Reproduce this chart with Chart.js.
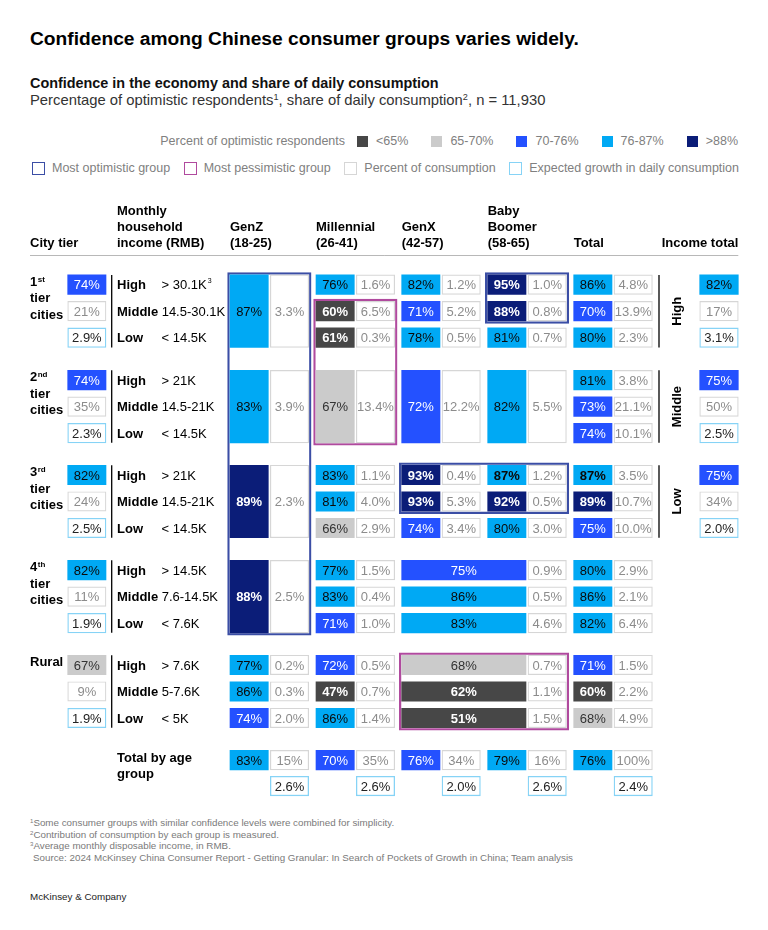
<!DOCTYPE html>
<html>
<head>
<meta charset="utf-8">
<script src="https://cdn.jsdelivr.net/npm/chart.js@4.4.1/dist/chart.umd.min.js"></script>
<style>
html,body{margin:0;padding:0;background:#fff;}
body{width:768px;height:930px;position:relative;overflow:hidden;font-family:"Liberation Sans",Arial,Helvetica,sans-serif;color:#000;}
.abs{position:absolute;white-space:nowrap;}
sup{font-size:0.62em;line-height:0;vertical-align:0.55em;}
#title{left:30px;top:28px;font-size:19.2px;line-height:22px;font-weight:bold;color:#000;}
#sub1{left:30px;top:75px;font-size:14.4px;line-height:17px;font-weight:bold;color:#111;}
#sub2{left:30px;top:92px;font-size:14.8px;line-height:17px;color:#333;}
#leg1{right:30px;top:134px;height:15px;font-size:12.5px;line-height:15px;color:#808080;display:flex;align-items:center;}
#leg1 .sw{width:11px;height:11px;margin:0 8px 0 23px;}
#leg1 .first{margin-left:12px;}
#leg2{left:32px;width:707px;top:161px;height:15px;font-size:12.5px;line-height:15px;color:#808080;display:flex;align-items:center;justify-content:space-between;}
#leg2 .it{display:flex;align-items:center;}
#leg2 .ob{width:11px;height:11px;border:1.5px solid #999;margin-right:7px;background:#fff;}
#chartWrap{position:absolute;left:0;top:190px;width:768px;height:620px;}
#notes{left:30px;top:817px;font-size:9.8px;line-height:11.5px;color:#7a7a7a;}
#brand{left:30px;top:891px;font-size:9.8px;line-height:12px;color:#222;}
</style>
</head>
<body>
<div id="title" class="abs">Confidence among Chinese consumer groups varies widely.</div>
<div id="sub1" class="abs">Confidence in the economy and share of daily consumption</div>
<div id="sub2" class="abs">Percentage of optimistic respondents<sup>1</sup>, share of daily consumption<sup>2</sup>, n = 11,930</div>
<div id="leg1" class="abs"></div>
<div id="leg2" class="abs">
  <div class="it"><span class="ob" style="border-color:#3b4ea5"></span>Most optimistic group</div>
  <div class="it"><span class="ob" style="border-color:#b04a9e"></span>Most pessimistic group</div>
  <div class="it"><span class="ob" style="border-color:#d6d6d6"></span>Percent of consumption</div>
  <div class="it"><span class="ob" style="border-color:#86d3f6"></span>Expected growth in daily consumption</div>
</div>
<div id="chartWrap"><canvas id="c" width="768" height="620"></canvas></div>
<div id="notes" class="abs">
  <div><sup>1</sup>Some consumer groups with similar confidence levels were combined for simplicity.</div>
  <div><sup>2</sup>Contribution of consumption by each group is measured.</div>
  <div><sup>3</sup>Average monthly disposable income, in RMB.</div>
  <div style="padding-left:3px">Source: 2024 McKinsey China Consumer Report - Getting Granular: In Search of Pockets of Growth in China; Team analysis</div>
</div>
<div id="brand" class="abs">McKinsey &amp; Company</div>

<script>
// ===================== DATA =====================
const tierLabels = [['1st','tier','cities'],['2nd','tier','cities'],['3rd','tier','cities'],['4th','tier','cities'],['Rural']];
const incomeLevels = ['High','Middle','Low'];
const incomeRanges = [
  ['> 30.1K','14.5-30.1K','< 14.5K'],
  ['> 21K','14.5-21K','< 14.5K'],
  ['> 21K','14.5-21K','< 14.5K'],
  ['> 14.5K','7.6-14.5K','< 7.6K'],
  ['> 7.6K','5-7.6K','< 5K']
];
const ageGroups = [['GenZ','(18-25)'],['Millennial','(26-41)'],['GenX','(42-57)'],['Baby','Boomer','(58-65)'],['Total']];
const binLabels = ['<65%','65-70%','70-76%','76-87%','>88%'];
const binLimits = [65, 70, 76, 88];

// per tier x income (High, Middle, Low); null = merged with the row above
const genZOptimism       = [87,null,null, 83,null,null, 89,null,null, 88,null,null, 77,86,74];
const genZShare          = [3.3,null,null, 3.9,null,null, 2.3,null,null, 2.5,null,null, 0.2,0.3,2.0];
const millennialOptimism = [76,60,61, 67,null,null, 83,81,66, 77,83,71, 72,47,86];
const millennialShare    = [1.6,6.5,0.3, 13.4,null,null, 1.1,4.0,2.9, 1.5,0.4,1.0, 0.5,0.7,1.4];
const genXOptimism       = [82,71,78, 72,null,null, 93,93,74];
const genXShare          = [1.2,5.2,0.5, 12.2,null,null, 0.4,5.3,3.4];
const boomerOptimism     = [95,88,81, 82,null,null, 87,92,80];
const boomerShare        = [1.0,0.8,0.7, 5.5,null,null, 1.2,0.5,3.0];
// GenX and Baby Boomer combined (4th tier, rural)
const genXBoomerOptimism = [75,86,83, 68,62,51];
const genXBoomerShare    = [0.9,0.5,4.6, 0.7,1.1,1.5];
const totalOptimism      = [86,70,80, 81,73,74, 87,89,75, 80,86,82, 71,60,68];
const totalShare         = [4.8,13.9,2.3, 3.8,21.1,10.1, 3.5,10.7,10.0, 2.9,2.1,6.4, 1.5,2.2,4.9];

const tierOptimism = [74,74,82,82,67];
const tierShare    = [21,35,24,11,9];
const tierGrowth   = [2.9,2.3,2.5,1.9,1.9];

const ageTotalOptimism = [83,70,75.6,79,76];
const ageTotalShare    = [15,35,34,16,100];
const ageTotalGrowth   = [2.6,2.6,2.0,2.6,2.4];

const incomeTotalOptimism = [82,75,75];
const incomeTotalShare    = [17,50,34];
const incomeTotalGrowth   = [3.1,2.5,2.0];

// ===================== LAYOUT / STYLE =====================
const FONT = '"Liberation Sans", Arial, Helvetica, sans-serif';
const ROW_PX = 26.5, CELL_H = 19.5, BOX_PAD = 2.4;
const CANVAS_TOP = 190, CANVAS_H = 620, FIRST_ROW_Y = 284.7;
const Y_MIN = -(FIRST_ROW_Y - CANVAS_TOP) / ROW_PX;
const Y_MAX = Y_MIN + CANVAS_H / ROW_PX;
const GROUP_ROW = [0, 3.6, 7.18, 10.77, 14.35];
const TOTAL_ROW = 17.94, TOTAL_GROWTH_ROW = 18.92;
const AGE_X = [230, 316, 401.7, 487.7, 573.7];
const OPT_W = 38.3, CONS_DX = 40.3, CONS_W = 38.4;
const TIER_BOX_X = [67.7, 106];
const INCOME_BOX_X = [699.7, 738.3];
const TIER_SEP_X = 111.7, INCOME_SEP_X = 659, INCOME_LABEL_X = 677.3;
const HEADER_BASE = -1.404, HEADER_STEP = 0.604, HEADER_RULE = -1.121;
const COMBINED_TIERS = [3, 4];
const EMPHASIS = [[3,2,0],[4,2,0]]; // bold labels: [age, tier, income]
const BIN_STYLE = [
  {fill:'#474747', text:'#ffffff', bold:true},
  {fill:'#cbcbcb', text:'#333333', bold:false},
  {fill:'#2451ff', text:'#ffffff', bold:false},
  {fill:'#00a9f4', text:'#0a0a0a', bold:false},
  {fill:'#0b1d78', text:'#ffffff', bold:true}
];
const binOf = v => { let i = 0; while (i < binLimits.length && v >= binLimits[i]) i++; return BIN_STYLE[i]; };
const HIGHLIGHTS = [
  {color:'#3b4ea5', ages:[0,0], from:[0,0], to:[3,2]},
  {color:'#3b4ea5', ages:[3,3], from:[0,0], to:[0,1]},
  {color:'#3b4ea5', ages:[2,3], from:[2,0], to:[2,1]},
  {color:'#b04a9e', ages:[1,1], from:[0,1], to:[1,2]},
  {color:'#b04a9e', ages:[2,3], from:[4,0], to:[4,2]}
];

// legend row 1
(function(){
  const leg = document.getElementById('leg1');
  const t = document.createElement('span'); t.textContent = 'Percent of optimistic respondents'; leg.appendChild(t);
  binLabels.forEach((lab, i) => {
    const sw = document.createElement('span'); sw.className = 'sw' + (i === 0 ? ' first' : '');
    sw.style.background = BIN_STYLE[i].fill; leg.appendChild(sw);
    const s = document.createElement('span'); s.textContent = lab; leg.appendChild(s);
  });
})();

// ===================== BUILD CELLS =====================
const rowOf = (t, i) => GROUP_ROW[t] + i;
const optSingle = [], optTriple = [], consSingle = [], consTriple = [], growthCells = [];
const isEmph = (a, t, i) => EMPHASIS.some(e => e[0] === a && e[1] === t && e[2] === i);

const ageOpt = [genZOptimism, millennialOptimism, genXOptimism, boomerOptimism, totalOptimism];
const ageShare = [genZShare, millennialShare, genXShare, boomerShare, totalShare];

ageOpt.forEach((opt, a) => {
  const ox = [AGE_X[a], AGE_X[a] + OPT_W];
  const cx = [AGE_X[a] + CONS_DX, AGE_X[a] + CONS_DX + CONS_W];
  for (let t = 0; t < 5; t++) {
    const k = t * 3;
    if (k >= opt.length || opt[k] === null) continue;
    if (opt[k + 1] === null && opt[k + 2] === null) {
      optTriple.push({x: ox, y: rowOf(t, 1), v: opt[k]});
      consTriple.push({x: cx, y: rowOf(t, 1), v: ageShare[a][k], dec: true});
    } else {
      for (let i = 0; i < 3; i++) {
        optSingle.push({x: ox, y: rowOf(t, i), v: opt[k + i], bold: isEmph(a, t, i)});
        consSingle.push({x: cx, y: rowOf(t, i), v: ageShare[a][k + i], dec: true});
      }
    }
  }
  // total by age group
  optSingle.push({x: ox, y: TOTAL_ROW, v: ageTotalOptimism[a]});
  consSingle.push({x: cx, y: TOTAL_ROW, v: ageTotalShare[a], dec: false});
  growthCells.push({x: cx, y: TOTAL_GROWTH_ROW, v: ageTotalGrowth[a]});
});

// GenX + Baby Boomer combined
COMBINED_TIERS.forEach((t, n) => {
  for (let i = 0; i < 3; i++) {
    optSingle.push({x: [AGE_X[2], AGE_X[3] + OPT_W], y: rowOf(t, i), v: genXBoomerOptimism[n * 3 + i]});
    consSingle.push({x: [AGE_X[3] + CONS_DX, AGE_X[3] + CONS_DX + CONS_W], y: rowOf(t, i), v: genXBoomerShare[n * 3 + i], dec: true});
  }
});

// city tier summary
tierOptimism.forEach((v, t) => {
  optSingle.push({x: TIER_BOX_X, y: rowOf(t, 0), v});
  consSingle.push({x: TIER_BOX_X, y: rowOf(t, 1), v: tierShare[t], dec: false});
  growthCells.push({x: TIER_BOX_X, y: rowOf(t, 2), v: tierGrowth[t]});
});

// income total
incomeTotalOptimism.forEach((v, l) => {
  optSingle.push({x: INCOME_BOX_X, y: rowOf(l, 0), v});
  consSingle.push({x: INCOME_BOX_X, y: rowOf(l, 1), v: incomeTotalShare[l], dec: false});
  growthCells.push({x: INCOME_BOX_X, y: rowOf(l, 2), v: incomeTotalGrowth[l]});
});

const TRIPLE_H = 2 * ROW_PX + CELL_H;
const base = {stack: 'cells', borderSkipped: false};
const datasets = [
  Object.assign({kind: 'opt', data: optSingle, barThickness: CELL_H, borderWidth: 0,
    backgroundColor: c => c.raw ? binOf(c.raw.v).fill : '#000'}, base),
  Object.assign({kind: 'opt', data: optTriple, barThickness: TRIPLE_H, borderWidth: 0,
    backgroundColor: c => c.raw ? binOf(c.raw.v).fill : '#000'}, base),
  Object.assign({kind: 'cons', data: consSingle, barThickness: CELL_H, borderWidth: 1.2,
    backgroundColor: '#ffffff', borderColor: '#d6d6d6'}, base),
  Object.assign({kind: 'cons', data: consTriple, barThickness: TRIPLE_H, borderWidth: 1.2,
    backgroundColor: '#ffffff', borderColor: '#d6d6d6'}, base),
  Object.assign({kind: 'growth', data: growthCells, barThickness: CELL_H, borderWidth: 1.3,
    backgroundColor: '#ffffff', borderColor: '#86d3f6'}, base)
];
HIGHLIGHTS.forEach(h => {
  const r0 = rowOf(h.from[0], h.from[1]), r1 = rowOf(h.to[0], h.to[1]);
  datasets.push(Object.assign({
    kind: 'box',
    data: [{x: [AGE_X[h.ages[0]] - BOX_PAD, AGE_X[h.ages[1]] + CONS_DX + CONS_W + BOX_PAD], y: (r0 + r1) / 2}],
    barThickness: (r1 - r0) * ROW_PX + CELL_H + 2 * BOX_PAD,
    backgroundColor: 'rgba(0,0,0,0)', borderColor: h.color, borderWidth: 1.6
  }, base));
});

// ===================== PLUGINS =====================
const cellLabels = {
  id: 'cellLabels',
  afterDatasetsDraw(chart) {
    const ctx = chart.ctx;
    ctx.save();
    ctx.textAlign = 'center';
    ctx.textBaseline = 'alphabetic';
    chart.data.datasets.forEach((d, di) => {
      if (d.kind === 'box') return;
      chart.getDatasetMeta(di).data.forEach((el, j) => {
        const p = d.data[j];
        const c = el.getCenterPoint();
        let txt, color, bold = false;
        if (d.kind === 'opt') {
          const b = binOf(p.v);
          txt = Math.round(p.v) + '%'; color = b.text; bold = b.bold || p.bold;
        } else if (d.kind === 'cons') {
          txt = (p.dec ? p.v.toFixed(1) : String(Math.round(p.v))) + '%'; color = '#8c8c8c';
        } else {
          txt = p.v.toFixed(1) + '%'; color = '#222222';
        }
        ctx.font = (bold ? 'bold ' : '') + '13px ' + FONT;
        ctx.fillStyle = color;
        ctx.fillText(txt, c.x, c.y + 4.7);
      });
    });
    ctx.restore();
  }
};

const tableText = {
  id: 'tableText',
  afterDraw(chart) {
    const ctx = chart.ctx;
    const xs = chart.scales.x, ys = chart.scales.y;
    const X = v => xs.getPixelForValue(v), Y = v => ys.getPixelForValue(v);
    ctx.save();
    ctx.textBaseline = 'alphabetic';
    ctx.fillStyle = '#000';
    const bold = s => 'bold ' + s + 'px ' + FONT;
    const reg = s => s + 'px ' + FONT;

    // headers (bottom aligned)
    const headerCols = [{x: 30, lines: ['City tier']}, {x: 117, lines: ['Monthly', 'household', 'income (RMB)']}]
      .concat(ageGroups.map((g, a) => ({x: AGE_X[a], lines: g})));
    ctx.font = bold(13);
    ctx.textAlign = 'left';
    headerCols.forEach(h => {
      const n = h.lines.length;
      h.lines.forEach((ln, i) => ctx.fillText(ln, X(h.x), Y(HEADER_BASE - (n - 1 - i) * HEADER_STEP)));
    });
    ctx.textAlign = 'right';
    ctx.fillText('Income total', X(INCOME_BOX_X[1]), Y(HEADER_BASE));
    // header rule
    ctx.strokeStyle = '#b8b8b8'; ctx.lineWidth = 1;
    const ry = Math.round(Y(HEADER_RULE)) + 0.5;
    ctx.beginPath(); ctx.moveTo(X(30), ry); ctx.lineTo(X(INCOME_BOX_X[1]), ry); ctx.stroke();

    // tier labels, income levels, separators
    tierLabels.forEach((lines, t) => {
      const y0 = Y(rowOf(t, 0));
      ctx.textAlign = 'left';
      lines.forEach((ln, i) => {
        const yy = y0 + 1.3 + i * 16.3;
        const m = i === 0 ? ln.match(/^(\d)(\D+)$/) : null;
        if (m) {
          ctx.font = bold(13); ctx.fillText(m[1], X(30), yy);
          const w = ctx.measureText(m[1]).width;
          ctx.font = bold(8); ctx.fillText(m[2], X(30) + w + 0.5, yy - 4.5);
        } else {
          ctx.font = bold(13); ctx.fillText(ln, X(30), yy);
        }
      });
      incomeLevels.forEach((lv, i) => {
        const yy = Y(rowOf(t, i)) + 4.7;
        ctx.font = bold(13); ctx.fillText(lv, X(117), yy);
        const w = ctx.measureText(lv).width;
        const rx = Math.max(X(161.5), X(117) + w + 3.5);
        ctx.font = reg(13); ctx.fillText(incomeRanges[t][i], rx, yy);
        if (t === 0 && i === 0) {
          const rw = ctx.measureText(incomeRanges[t][i]).width;
          ctx.font = reg(7); ctx.fillText('3', rx + rw + 1, yy - 6);
        }
      });
      ctx.strokeStyle = '#000'; ctx.lineWidth = 1.3;
      ctx.beginPath();
      ctx.moveTo(X(TIER_SEP_X), Y(rowOf(t, 0)) - CELL_H / 2);
      ctx.lineTo(X(TIER_SEP_X), Y(rowOf(t, 2)) + CELL_H / 2);
      ctx.stroke();
    });

    // income total labels and separators
    incomeLevels.forEach((lv, l) => {
      ctx.strokeStyle = '#000'; ctx.lineWidth = 1.3;
      ctx.beginPath();
      ctx.moveTo(X(INCOME_SEP_X), Y(rowOf(l, 0)) - CELL_H / 2);
      ctx.lineTo(X(INCOME_SEP_X), Y(rowOf(l, 2)) + CELL_H / 2);
      ctx.stroke();
      ctx.save();
      ctx.translate(X(INCOME_LABEL_X), Y(rowOf(l, 1)));
      ctx.rotate(-Math.PI / 2);
      ctx.font = bold(13); ctx.textAlign = 'center'; ctx.textBaseline = 'middle';
      ctx.fillText(lv, 0, 0);
      ctx.restore();
    });

    // total by age group
    ctx.textAlign = 'left'; ctx.font = bold(13);
    ctx.fillText('Total by age', X(117), Y(TOTAL_ROW) + 2);
    ctx.fillText('group', X(117), Y(TOTAL_ROW) + 18);
    ctx.restore();
  }
};

new Chart(document.getElementById('c'), {
  type: 'bar',
  data: {datasets},
  options: {
    indexAxis: 'y',
    responsive: false,
    animation: false,
    events: [],
    layout: {padding: 0},
    plugins: {legend: {display: false}, tooltip: {enabled: false}, title: {display: false}},
    scales: {
      x: {type: 'linear', min: 0, max: 768, display: false, stacked: false, offset: false, grace: 0},
      y: {type: 'linear', min: Y_MIN, max: Y_MAX, reverse: true, display: false, offset: false, grace: 0}
    }
  },
  plugins: [cellLabels, tableText]
});
</script>
</body>
</html>
